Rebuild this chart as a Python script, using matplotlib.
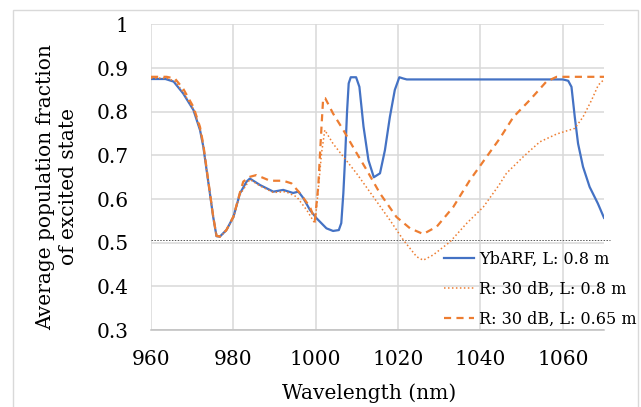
import numpy as np
import matplotlib
matplotlib.use("Agg")
import matplotlib.pyplot as plt
from matplotlib.patches import Rectangle

plt.rcParams['font.family'] = ['DejaVu Serif']

# YbARF, L: 0.8 m
wl_yb = [960, 963.5, 965.5, 967.8, 970.3, 971.9, 972.7, 973.5, 974.3, 975.1,
         975.9, 976.7, 978.3, 980.0, 981.6, 983.2, 984.0, 986.5, 989.7, 992.1,
         994.5, 995.8, 997.0, 998.6, 1000.2, 1002.6, 1004.2, 1005.6, 1006.2, 1006.7,
         1007.1, 1007.6, 1008.0, 1008.5, 1009.8, 1010.6, 1011.6, 1012.8, 1014.1, 1015.6,
         1016.8, 1018.0, 1019.2, 1020.3, 1021.3, 1022.1, 1060.0, 1061.3, 1062.1, 1062.9,
         1063.7, 1064.9, 1066.5, 1068.5, 1070]
pop_yb = [0.875, 0.875, 0.869, 0.842, 0.804, 0.758, 0.720, 0.666, 0.613, 0.559,
          0.515, 0.514, 0.529, 0.559, 0.613, 0.640, 0.647, 0.632, 0.617, 0.621,
          0.614, 0.617, 0.602, 0.575, 0.556, 0.533, 0.527, 0.529, 0.545, 0.613,
          0.689, 0.800, 0.865, 0.879, 0.879, 0.857, 0.766, 0.689, 0.650, 0.659,
          0.712, 0.788, 0.850, 0.879, 0.876, 0.874, 0.874, 0.871, 0.857, 0.788,
          0.727, 0.674, 0.628, 0.590, 0.557]

# R: 30 dB, L: 0.8 m
wl_r80 = [960, 963.8, 965.8, 967.8, 970.3, 971.9, 972.7, 973.5, 974.3, 975.1,
          975.9, 976.7, 978.3, 980.0, 981.6, 984.0, 986.5, 989.7, 992.7, 995.4,
          997.8, 999.8, 1000.6, 1001.4, 1002.2, 1004.2, 1006.7, 1009.9, 1014.0, 1018.0,
          1021.3, 1024.5, 1026.1, 1028.5, 1032.6, 1036.6, 1040.7, 1044.5, 1046.3, 1050.4,
          1054.4, 1058.5, 1062.9, 1064.9, 1067.0, 1068.6, 1070]
pop_r80 = [0.877, 0.877, 0.870, 0.845, 0.806, 0.760, 0.720, 0.666, 0.613, 0.559,
           0.515, 0.513, 0.528, 0.557, 0.610, 0.645, 0.630, 0.615, 0.617, 0.605,
           0.575, 0.544, 0.620, 0.705, 0.758, 0.727, 0.697, 0.659, 0.605, 0.552,
           0.506, 0.468, 0.460, 0.472, 0.502, 0.544, 0.582, 0.632, 0.659, 0.697,
           0.731, 0.749, 0.762, 0.788, 0.827, 0.861, 0.874]

# R: 30 dB, L: 0.65 m
wl_r65 = [960, 963.8, 965.8, 967.8, 970.3, 971.9, 972.7, 973.5, 974.3, 975.1,
          975.9, 976.7, 978.3, 980.0, 981.6, 982.4, 984.0, 985.6, 988.9, 992.1,
          994.1, 996.2, 998.6, 999.8, 1000.6, 1001.4, 1001.8, 1002.3, 1004.2, 1006.7,
          1009.5, 1012.4, 1015.6, 1019.6, 1022.9, 1026.1, 1029.4, 1033.4, 1037.4, 1041.5,
          1044.7, 1048.0, 1052.0, 1056.0, 1058.5, 1070]
pop_r65 = [0.880, 0.880, 0.876, 0.853, 0.811, 0.765, 0.725, 0.670, 0.615, 0.560,
           0.516, 0.514, 0.529, 0.560, 0.615, 0.640, 0.651, 0.655, 0.642, 0.642,
           0.636, 0.613, 0.582, 0.552, 0.628, 0.766, 0.831, 0.831, 0.796, 0.758,
           0.712, 0.666, 0.613, 0.559, 0.533, 0.520, 0.537, 0.582, 0.643, 0.697,
           0.739, 0.788, 0.827, 0.869, 0.880, 0.880]

ref_level = 0.507
labels = ['YbARF, L: 0.8 m', 'R: 30 dB, L: 0.8 m', 'R: 30 dB, L: 0.65 m']
xticks = [960, 980, 1000, 1020, 1040, 1060]
yticks = [0.3, 0.4, 0.5, 0.6, 0.7, 0.8, 0.9, 1.0]
ytick_labels = ['0.3', '0.4', '0.5', '0.6', '0.7', '0.8', '0.9', '1']

blue = '#4472C4'
orange = '#ED7D31'
grid_c = '#d9d9d9'

fig = plt.figure(figsize=(6.41, 4.07), dpi=100)
ax = fig.add_axes([0.2356, 0.189, 0.7067, 0.751])

# light frame round the chart area
fig.patches.append(Rectangle((13 / 641, -0.05), 625 / 641, 1.05 - 10 / 407,
                             transform=fig.transFigure, fill=False,
                             edgecolor=grid_c, linewidth=1.0))

ax.plot([960, 1071.5], [ref_level, ref_level], color='#595959',
        linestyle=(0, (1.5, 1.5)), linewidth=0.7, clip_on=False, zorder=2)

l1, = ax.plot(wl_yb, pop_yb, color=blue, linewidth=1.6, zorder=3)
l2, = ax.plot(wl_r80, pop_r80, color=orange, linewidth=1.1,
              linestyle=(0, (1, 1.6)), zorder=3)
l3, = ax.plot(wl_r65, pop_r65, color=orange, linewidth=1.6,
              linestyle=(0, (3.2, 2.4)), zorder=3)

ax.set_xlim(960, 1070)
ax.set_ylim(0.3, 1.0)
ax.set_xticks(xticks)
ax.set_yticks(yticks)
ax.set_yticklabels(ytick_labels)
ax.tick_params(length=0, labelsize=14.5)
ax.tick_params(axis='y', pad=16)
ax.tick_params(axis='x', pad=14)
ax.grid(True, color=grid_c, linewidth=1.1)
ax.set_axisbelow(True)
for s in ['top', 'right', 'left']:
    ax.spines[s].set_visible(False)
ax.spines['bottom'].set_color('#bfbfbf')
ax.spines['bottom'].set_linewidth(1.1)

fig.text(57 / 641, 0.541, 'Average population fraction\nof excited state',
         rotation=90, ha='center', va='center', multialignment='center',
         fontsize=14.5, linespacing=1.25)
fig.text(369.5 / 641, 1 - 393 / 407, 'Wavelength (nm)', ha='center', va='center',
         fontsize=14.5)

fig.legend([l1, l2, l3], labels, loc='upper left',
           bbox_to_anchor=(444 / 641, 1 - 251 / 407), frameon=False,
           fontsize=11.5, borderpad=0, handlelength=1.9, handletextpad=0.3,
           labelspacing=0.8, borderaxespad=0)

fig.savefig('out.png', dpi=100)
